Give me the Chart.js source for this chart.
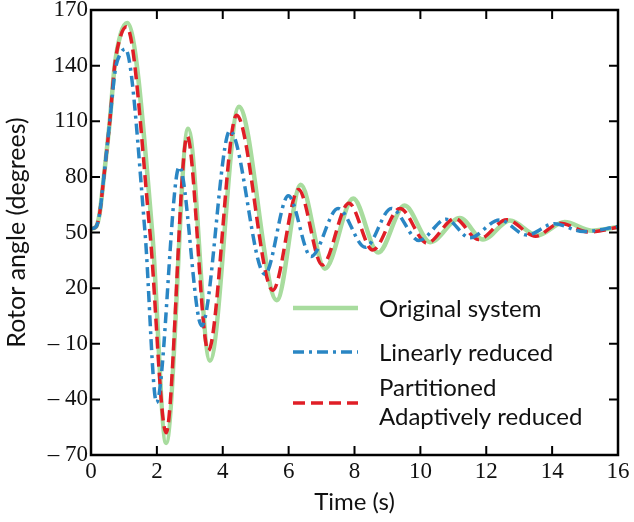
<!DOCTYPE html>
<html>
<head>
<meta charset="utf-8">
<script src="https://cdn.jsdelivr.net/npm/chart.js@4.4.1/dist/chart.umd.min.js"></script>
<style>
  html, body { margin: 0; padding: 0; background: #ffffff; }
  #wrap { width: 634px; height: 522px; }
</style>
</head>
<body>
<div id="wrap"><canvas id="c" width="634" height="522"></canvas></div>
<script>
// ---- Data ----
const seriesNames = ["Original system", "Linearly reduced", "Partitioned Adaptively reduced"];

const tOriginal = [0, 0.15, 0.26, 0.39, 0.57, 0.72, 0.9, 1.10, 1.86, 2.28, 2.95, 3.61, 4.49, 5.64, 6.37, 7.10, 7.96, 8.72, 9.52, 10.3, 11.2, 11.9, 12.72, 13.55, 14.38, 15.2, 16];
const vOriginal = [52, 53, 60, 80, 110, 140, 157, 163, 50, -63.5, 106, -19.2, 117.8, 13.5, 75.7, 30.5, 68.3, 39.2, 64.5, 44.8, 57.8, 46.2, 56.5, 48.4, 55.6, 51, 53];

const tLinear = [0, 0.15, 0.26, 0.39, 0.57, 0.74, 0.88, 1.04, 1.64, 1.99, 2.68, 3.36, 4.22, 5.28, 5.99, 6.68, 7.5, 8.33, 9.12, 9.96, 10.78, 11.5, 12.4, 13.23, 14.06, 14.95, 16];
const vLinear = [52, 53, 60, 80, 110, 138, 146, 149, 50, -41.7, 85.5, -0.3, 104.9, 27.5, 69.8, 37, 63, 42, 63, 45.7, 57.2, 47.2, 56.8, 48.6, 54.7, 50.5, 53.2];

const tPartitioned = [0, 0.15, 0.26, 0.39, 0.57, 0.72, 0.9, 1.08, 1.79, 2.28, 2.92, 3.56, 4.42, 5.52, 6.30, 7.02, 7.83, 8.55, 9.38, 10.2, 11.05, 11.76, 12.62, 13.5, 14.24, 15.1, 16];
const vPartitioned = [52, 53, 60, 80, 110, 140, 156, 161, 50, -58, 102, -13.8, 113.3, 18.9, 73.2, 32.5, 65.8, 40.5, 63, 44.3, 57.5, 46.2, 56.9, 48, 55, 50.3, 52.8];

const xTicks = [0, 2, 4, 6, 8, 10, 12, 14, 16];
const yTicks = [-70, -40, -10, 20, 50, 80, 110, 140, 170];

function pts(ts, vs) { return ts.map((t, i) => ({ x: t, y: vs[i] })); }

const serif = "'Liberation Serif', 'Times New Roman', serif";
const sans = "Lato, 'Open Sans', sans-serif";

// inward ticks, frame and legend
const framePlugin = {
  id: 'frame',
  afterDraw(chart) {
    const ctx = chart.ctx, a = chart.chartArea;
    const xs = chart.scales.x, ys = chart.scales.y;
    ctx.save();
    ctx.strokeStyle = '#000';
    ctx.lineWidth = 2.5;
    ctx.strokeRect(a.left, a.top, a.right - a.left, a.bottom - a.top);
    ctx.lineWidth = 2;
    const L = 9;
    ctx.beginPath();
    xTicks.forEach(v => {
      const px = xs.getPixelForValue(v);
      ctx.moveTo(px, a.bottom); ctx.lineTo(px, a.bottom - L);
      ctx.moveTo(px, a.top); ctx.lineTo(px, a.top + L);
    });
    yTicks.forEach(v => {
      const py = ys.getPixelForValue(v);
      ctx.moveTo(a.left, py); ctx.lineTo(a.left + L, py);
      ctx.moveTo(a.right, py); ctx.lineTo(a.right - L, py);
    });
    ctx.stroke();

    // legend
    const rows = [
      { ds: 0, lineY: 308, texts: [['Original system', 309]] },
      { ds: 1, lineY: 352, texts: [['Linearly reduced', 353]] },
      { ds: 2, lineY: 403, texts: [['Partitioned', 388], ['Adaptively reduced', 417]] }
    ];
    rows.forEach(r => {
      const d = chart.data.datasets[r.ds];
      ctx.beginPath();
      ctx.strokeStyle = d.borderColor;
      ctx.lineWidth = d.borderWidth;
      ctx.setLineDash(d.borderDash || []);
      ctx.moveTo(293, r.lineY); ctx.lineTo(358, r.lineY);
      ctx.stroke();
      ctx.setLineDash([]);
      ctx.fillStyle = '#111';
      ctx.font = "24px " + sans;
      ctx.textBaseline = 'middle';
      ctx.textAlign = 'left';
      r.texts.forEach(([s, y]) => ctx.fillText(s, 379, y));
    });
    ctx.restore();
  }
};

new Chart(document.getElementById('c'), {
  type: 'line',
  data: {
    datasets: [
      {
        label: seriesNames[0],
        data: pts(tOriginal, vOriginal),
        borderColor: '#a8dc9e',
        borderWidth: 4.5,
        order: 3
      },
      {
        label: seriesNames[1],
        data: pts(tLinear, vLinear),
        borderColor: '#2a86c4',
        borderWidth: 3.5,
        borderDash: [11, 5, 3, 5],
        order: 1
      },
      {
        label: seriesNames[2],
        data: pts(tPartitioned, vPartitioned),
        borderColor: '#e01e26',
        borderWidth: 3.5,
        borderDash: [12, 6],
        order: 2
      }
    ].map(d => Object.assign({ pointRadius: 0, fill: false, cubicInterpolationMode: 'monotone' }, d))
  },
  options: {
    responsive: false,
    animation: false,
    events: [],
    layout: { padding: { top: 10, right: 16, left: 0, bottom: 0 } },
    plugins: { legend: { display: false }, tooltip: { enabled: false } },
    scales: {
      x: {
        type: 'linear', min: 0, max: 16,
        afterBuildTicks(s) { s.ticks = xTicks.map(v => ({ value: v })); },
        afterFit(s) { s.height = 67; s.paddingLeft = 0; s.paddingRight = 0; },
        ticks: { font: { family: serif, size: 23 }, color: '#111', padding: 3, maxRotation: 0 },
        grid: { display: false, drawTicks: false },
        border: { display: false },
        title: { display: true, text: 'Time (s)', font: { family: sans, size: 24 }, color: '#111', padding: { top: 0, bottom: 5 } }
      },
      y: {
        type: 'linear', min: -70, max: 170,
        afterBuildTicks(s) { s.ticks = yTicks.map(v => ({ value: v })); },
        afterFit(s) { s.width = 91; s.paddingTop = 0; s.paddingBottom = 0; },
        ticks: {
          font: { family: serif, size: 23 }, color: '#111', padding: 3,
          callback: v => v < 0 ? '\u2013 ' + Math.abs(v) : String(v)
        },
        grid: { display: false, drawTicks: false },
        border: { display: false },
        title: { display: true, text: 'Rotor angle (degrees)', font: { family: sans, size: 25 }, color: '#111', padding: { top: 2, bottom: 0 } }
      }
    }
  },
  plugins: [framePlugin]
});
</script>
</body>
</html>
